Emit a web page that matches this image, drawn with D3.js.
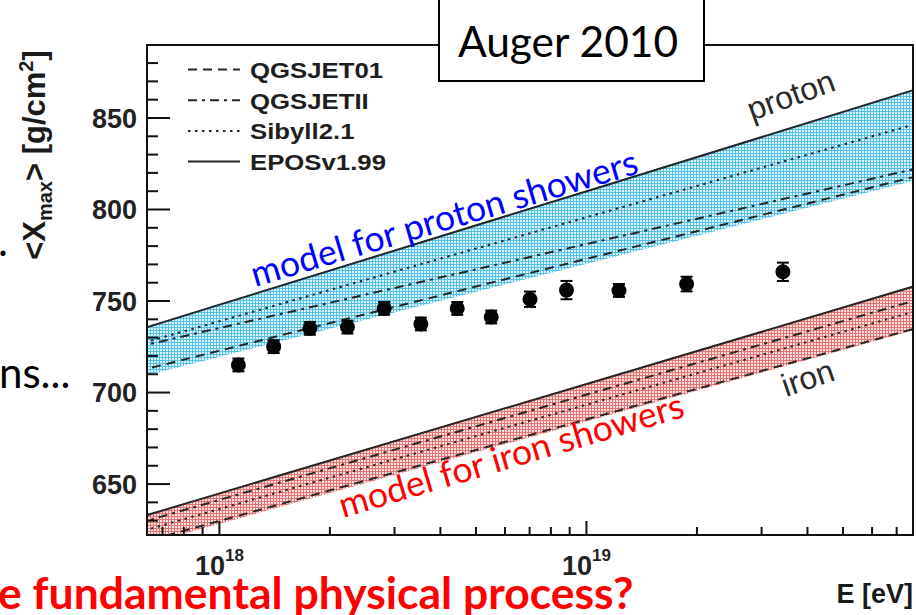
<!DOCTYPE html>
<html>
<head>
<meta charset="utf-8">
<script src="https://cdn.jsdelivr.net/npm/d3@7"></script>
<style>
  html, body { margin: 0; padding: 0; background: #fff; }
  svg { display: block; }
</style>
</head>
<body>
<svg id="chart" width="916" height="615"></svg>
<script>
// ---- measured <Xmax> (Auger 2010) ----
const dataEnergy = [1.13e18, 1.41e18, 1.77e18, 2.24e18, 2.82e18, 3.55e18, 4.46e18, 5.52e18, 7.04e18, 8.85e18, 1.23e19, 1.88e19, 3.44e19];
const dataXmax   = [714.8, 724.8, 734.8, 735.5, 745.7, 737.2, 745.7, 741.0, 750.7, 755.7, 755.5, 759.0, 765.7];
const dataErr    = [3.5, 3.5, 3.5, 3.5, 3.5, 3.5, 3.5, 3.5, 4.2, 5.0, 3.5, 4.0, 5.0];

// ---- hadronic-model predictions, sampled at these energies ----
const modelEnergy = [6e17, 1e18, 1e19, 8e19];
const protonQGSJET01 = [711.4, 722.5, 772.7, 818.0];
const protonQGSJETII = [724.7, 734.9, 780.8, 822.2];
const protonSibyll   = [726.0, 738.6, 795.4, 846.7];
const protonEPOS     = [733.8, 747.6, 809.6, 865.6];
const protonBandLow  = [707.9, 719.2, 770.0, 815.9];
const protonBandHigh = [734.3, 748.1, 810.1, 866.1];

const ironQGSJET01 = [617.2, 629.5, 685.0, 735.1];
const ironQGSJETII = [628.2, 641.0, 698.5, 750.4];
const ironSibyll   = [623.3, 636.0, 693.0, 744.5];
const ironEPOS     = [631.2, 644.5, 704.3, 758.3];
const ironBandLow  = [615.5, 627.9, 683.8, 734.3];
const ironBandHigh = [631.7, 645.0, 704.8, 758.8];

// ---- axes ----
const yMajorTicks = [650, 700, 750, 800, 850];
const xMajorTicks = [1e18, 1e19];
const xMinorTicks = [7e17, 8e17, 9e17, 2e18, 3e18, 4e18, 5e18, 6e18, 7e18, 8e18, 9e18,
                     2e19, 3e19, 4e19, 5e19, 6e19, 7e19];

// ---- legend ----
const legendNames  = ["QGSJET01", "QGSJETII", "Sibyll2.1", "EPOSv1.99"];
const legendDashes = ["9,6", "9,5,3,5", "2.5,4.5", null];

const plot = { left: 147, right: 913, top: 45, bottom: 535 };

const svg = d3.select("#chart");

const x = d3.scaleLog().domain([6.37e17, 7.78e19]).range([plot.left, plot.right]);
const y = d3.scaleLinear().domain([621.9, 889.6]).range([plot.bottom, plot.top]);

const defs = svg.append("defs");
defs.append("clipPath").attr("id", "plotClip")
  .append("rect")
  .attr("x", plot.left).attr("y", plot.top)
  .attr("width", plot.right - plot.left).attr("height", plot.bottom - plot.top);

function gridPattern(id, bg, ink) {
  const p = defs.append("pattern").attr("id", id)
    .attr("width", 3).attr("height", 3).attr("patternUnits", "userSpaceOnUse");
  p.append("rect").attr("width", 3).attr("height", 3).attr("fill", bg);
  p.append("path").attr("d", "M0,0.5H3M0.5,0V3")
    .attr("stroke", ink).attr("stroke-width", 1).attr("fill", "none");
}
gridPattern("gridBlue", "#def3fb", "#55bfe6");
gridPattern("gridRed", "#fae0e0", "#e27474");

const plotArea = svg.append("g").attr("clip-path", "url(#plotClip)");

// bands
const band = d3.area()
  .x(d => x(d.e))
  .y0(d => y(d.lo))
  .y1(d => y(d.hi));

function bandRows(lo, hi) {
  return modelEnergy.map((e, i) => ({ e, lo: lo[i], hi: hi[i] }));
}
plotArea.append("path").datum(bandRows(protonBandLow, protonBandHigh))
  .attr("d", band).attr("fill", "url(#gridBlue)");
plotArea.append("path").datum(bandRows(ironBandLow, ironBandHigh))
  .attr("d", band).attr("fill", "url(#gridRed)");

// model lines
const line = d3.line().x(d => x(d.e)).y(d => y(d.v));
const models = [
  { v: protonQGSJET01, dash: legendDashes[0] },
  { v: protonQGSJETII, dash: legendDashes[1] },
  { v: protonSibyll,   dash: legendDashes[2] },
  { v: protonEPOS,     dash: legendDashes[3] },
  { v: ironQGSJET01,   dash: legendDashes[0] },
  { v: ironQGSJETII,   dash: legendDashes[1] },
  { v: ironSibyll,     dash: legendDashes[2] },
  { v: ironEPOS,       dash: legendDashes[3] }
];
models.forEach(m => {
  plotArea.append("path")
    .datum(modelEnergy.map((e, i) => ({ e, v: m.v[i] })))
    .attr("d", line)
    .attr("fill", "none")
    .attr("stroke", "#262626")
    .attr("stroke-width", 2)
    .attr("stroke-dasharray", m.dash);
});

// data points with error bars
const pts = dataEnergy.map((e, i) => ({ e, v: dataXmax[i], err: dataErr[i] }));
const pg = plotArea.append("g").selectAll("g").data(pts).join("g");
pg.append("line")
  .attr("x1", d => x(d.e)).attr("x2", d => x(d.e))
  .attr("y1", d => y(d.v - d.err)).attr("y2", d => y(d.v + d.err))
  .attr("stroke", "#000").attr("stroke-width", 2);
pg.selectAll(".cap").data(d => [{ e: d.e, v: d.v - d.err }, { e: d.e, v: d.v + d.err }])
  .join("line").attr("class", "cap")
  .attr("x1", d => x(d.e) - 6).attr("x2", d => x(d.e) + 6)
  .attr("y1", d => y(d.v)).attr("y2", d => y(d.v))
  .attr("stroke", "#000").attr("stroke-width", 2);
pg.append("circle")
  .attr("cx", d => x(d.e)).attr("cy", d => y(d.v))
  .attr("r", 7.5).attr("fill", "#050505");

// frame
svg.append("rect")
  .attr("x", plot.left).attr("y", plot.top)
  .attr("width", plot.right - plot.left).attr("height", plot.bottom - plot.top)
  .attr("fill", "none").attr("stroke", "#111").attr("stroke-width", 2);

// y axis
const yMinor = d3.range(630, 889, 10).filter(v => v % 50 !== 0);
svg.append("g").attr("transform", `translate(${plot.left},0)`)
  .call(d3.axisLeft(y).tickValues(yMinor).tickSizeInner(-11).tickSizeOuter(0).tickFormat(""))
  .call(g => g.select(".domain").remove())
  .call(g => g.selectAll("line").attr("stroke", "#111").attr("stroke-width", 2));

svg.append("g").attr("transform", `translate(${plot.left},0)`)
  .call(d3.axisLeft(y).tickValues(yMajorTicks).tickSizeInner(-23).tickSizeOuter(0).tickPadding(10).tickFormat(d3.format("d")))
  .call(g => g.select(".domain").remove())
  .call(g => g.selectAll("line").attr("stroke", "#111").attr("stroke-width", 2))
  .call(g => g.selectAll("text")
    .attr("font-family", "'Liberation Sans', Arial, sans-serif")
    .attr("font-size", 27).attr("font-weight", "bold").attr("fill", "#222")
    .attr("dy", "0.36em"));

// x axis
svg.append("g").attr("transform", `translate(0,${plot.bottom})`)
  .call(d3.axisBottom(x).tickValues(xMinorTicks).tickSizeInner(-8).tickSizeOuter(0).tickFormat(""))
  .call(g => g.select(".domain").remove())
  .call(g => g.selectAll("line").attr("stroke", "#111").attr("stroke-width", 2));

const xMaj = svg.append("g").attr("transform", `translate(0,${plot.bottom})`)
  .call(d3.axisBottom(x).tickValues(xMajorTicks).tickSizeInner(-14).tickSizeOuter(0).tickFormat(""))
  .call(g => g.select(".domain").remove())
  .call(g => g.selectAll("line").attr("stroke", "#111").attr("stroke-width", 2));
xMaj.selectAll(".tick text").remove();
xMaj.selectAll(".tick").each(function (d) {
  const t = d3.select(this).append("text")
    .attr("y", 40).attr("text-anchor", "middle")
    .attr("font-family", "'Liberation Sans', Arial, sans-serif")
    .attr("font-weight", "bold").attr("fill", "#222");
  t.append("tspan").attr("font-size", 27).text("10");
  t.append("tspan").attr("font-size", 17).attr("dy", -14).text(String(Math.round(Math.log10(d))));
});

// axis titles
svg.append("text")
  .attr("x", plot.right).attr("y", 603).attr("text-anchor", "end")
  .attr("font-family", "'Liberation Sans', Arial, sans-serif")
  .attr("font-size", 27).attr("font-weight", "bold").attr("fill", "#1a1a1a")
  .text("E [eV]");

const yTitle = svg.append("text")
  .attr("transform", "translate(45,155) rotate(-90)")
  .attr("text-anchor", "middle")
  .attr("font-family", "'Liberation Sans', Arial, sans-serif")
  .attr("font-size", 31).attr("font-weight", "bold").attr("fill", "#1a1a1a");
yTitle.append("tspan").text("<X");
yTitle.append("tspan").attr("font-size", 20).attr("dy", 7).text("max");
yTitle.append("tspan").attr("dy", -7).text("> [g/cm");
yTitle.append("tspan").attr("font-size", 20).attr("dy", -12).text("2");
yTitle.append("tspan").attr("dy", 12).text("]");

// legend
const lg = svg.append("g");
legendNames.forEach((name, i) => {
  const ly = 69.5 + i * 30.7;
  lg.append("line")
    .attr("x1", 188).attr("x2", 240).attr("y1", ly).attr("y2", ly)
    .attr("stroke", "#262626").attr("stroke-width", 2)
    .attr("stroke-dasharray", legendDashes[i]);
  lg.append("text")
    .attr("transform", `translate(250,${ly + 8.5}) scale(1.12,1)`)
    .attr("font-family", "'Liberation Sans', Arial, sans-serif")
    .attr("font-size", 23).attr("font-weight", "bold").attr("fill", "#1e1e1e")
    .text(name);
});

// curve labels
svg.append("text")
  .attr("transform", "translate(752,121) rotate(-20)")
  .attr("font-family", "'Liberation Sans', Arial, sans-serif")
  .attr("font-size", 32).attr("fill", "#2a2a2a").text("proton");
svg.append("text")
  .attr("transform", "translate(786,397) rotate(-19)")
  .attr("font-family", "'Liberation Sans', Arial, sans-serif")
  .attr("font-size", 32).attr("fill", "#2a2a2a").text("iron");

svg.append("text")
  .attr("transform", "translate(255,287) rotate(-16.5)")
  .attr("font-family", "Lato, 'Open Sans', sans-serif")
  .attr("font-size", 35.5).attr("fill", "#0000ff").text("model for proton showers");
svg.append("text")
  .attr("transform", "translate(343,518) rotate(-16.5)")
  .attr("font-family", "Lato, 'Open Sans', sans-serif")
  .attr("font-size", 35.5).attr("fill", "#ff0000").text("model for iron showers");

// title box
svg.append("rect")
  .attr("x", 439).attr("y", -5).attr("width", 265).attr("height", 86)
  .attr("fill", "#fff").attr("stroke", "#000").attr("stroke-width", 2);
svg.append("text")
  .attr("x", 568).attr("y", 57).attr("text-anchor", "middle")
  .attr("font-family", "Lato, 'Open Sans', sans-serif")
  .attr("font-size", 42.5).attr("fill", "#000").text("Auger 2010");

// surrounding slide text
svg.append("text")
  .attr("x", -2).attr("y", 256)
  .attr("font-family", "Lato, 'Open Sans', sans-serif")
  .attr("font-size", 42).attr("fill", "#000").text(".");
svg.append("text")
  .attr("x", -1).attr("y", 388)
  .attr("font-family", "Lato, 'Open Sans', sans-serif")
  .attr("font-size", 42).attr("fill", "#000").text("ns...");
svg.append("text")
  .attr("x", -2).attr("y", 609)
  .attr("font-family", "Lato, 'Open Sans', sans-serif")
  .attr("font-size", 44.5).attr("font-weight", "bold").attr("fill", "#ff0000")
  .text("e fundamental physical process?");
</script>
</body>
</html>
